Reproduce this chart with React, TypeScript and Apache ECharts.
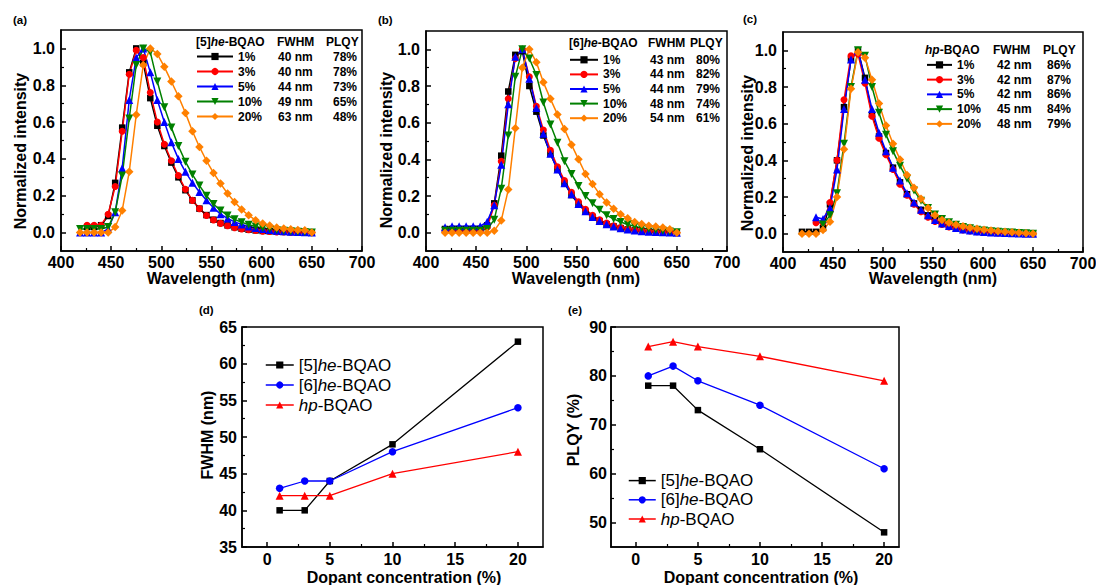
import React, { useEffect, useRef } from 'react';
import * as echarts from 'echarts';

const FONT = '"Liberation Sans", Arial, Helvetica, sans-serif';

// ---------- data: emission spectra (normalized intensity) ----------
const WAVELENGTHS = [419, 426, 433, 440, 447, 454, 461, 468, 475, 482, 489, 496, 503, 510, 517, 524, 531, 538, 545, 552, 559, 566, 573, 580, 587, 594, 601, 608, 615, 622, 629, 636, 643, 650];
const DOPING = ['1%', '3%', '5%', '10%', '20%'];

// (a) [5]he-BQAO
const A_1 = [null, 0.03, 0.03, 0.04, 0.09, 0.27, 0.57, 0.87, 1.0, 0.92, 0.73, 0.58, 0.47, 0.38, 0.30, 0.23, 0.175, 0.13, 0.095, 0.07, 0.052, 0.039, 0.029, 0.021, 0.016, 0.012, 0.009, 0.007, 0.005, 0.004, 0.003, 0.002, 0.001, 0.0];
const A_3 = [null, 0.04, 0.04, 0.04, 0.10, 0.25, 0.55, 0.86, 0.99, 0.95, 0.76, 0.60, 0.48, 0.39, 0.31, 0.235, 0.175, 0.13, 0.093, 0.068, 0.05, 0.037, 0.027, 0.02, 0.015, 0.011, 0.008, 0.006, 0.004, 0.003, 0.002, 0.001, 0.0, 0.0];
const A_5 = [0.0, 0.0, 0.0, 0.0, 0.02, 0.11, 0.35, 0.72, 0.95, 1.0, 0.87, 0.72, 0.60, 0.49, 0.40, 0.33, 0.27, 0.22, 0.175, 0.135, 0.10, 0.077, 0.058, 0.044, 0.033, 0.025, 0.019, 0.014, 0.01, 0.007, 0.005, 0.003, 0.002, 0.0];
const A_10 = [0.02, 0.02, 0.02, 0.02, 0.03, 0.11, 0.31, 0.62, 0.91, 1.0, 0.98, 0.82, 0.68, 0.57, 0.47, 0.385, 0.315, 0.255, 0.20, 0.155, 0.12, 0.093, 0.072, 0.056, 0.043, 0.033, 0.025, 0.019, 0.014, 0.01, 0.007, 0.005, 0.003, 0.0];
const A_20 = [0.0, 0.0, 0.0, 0.0, 0.0, 0.03, 0.12, 0.33, 0.64, 0.91, 1.0, 0.97, 0.90, 0.82, 0.74, 0.65, 0.55, 0.465, 0.39, 0.324, 0.266, 0.212, 0.166, 0.125, 0.094, 0.067, 0.05, 0.038, 0.027, 0.022, 0.018, 0.014, 0.012, 0.0];

// (b) [6]he-BQAO
const B_1 = [0.02, 0.02, 0.02, 0.02, 0.02, 0.02, 0.04, 0.16, 0.42, 0.77, 0.97, 0.99, 0.80, 0.66, 0.53, 0.43, 0.345, 0.27, 0.205, 0.155, 0.115, 0.085, 0.063, 0.046, 0.034, 0.025, 0.018, 0.013, 0.009, 0.006, 0.004, 0.003, 0.002, 0.0];
const B_3 = [0.01, 0.01, 0.01, 0.01, 0.01, 0.01, 0.03, 0.15, 0.39, 0.73, 0.95, 1.0, 0.85, 0.69, 0.56, 0.45, 0.36, 0.285, 0.22, 0.168, 0.127, 0.095, 0.07, 0.052, 0.038, 0.028, 0.02, 0.015, 0.011, 0.008, 0.006, 0.004, 0.002, 0.0];
const B_5 = [0.03, 0.035, 0.035, 0.035, 0.035, 0.035, 0.06, 0.15, 0.37, 0.70, 0.96, 1.0, 0.84, 0.68, 0.54, 0.43, 0.345, 0.27, 0.21, 0.157, 0.117, 0.086, 0.063, 0.046, 0.033, 0.024, 0.017, 0.012, 0.008, 0.005, 0.003, 0.002, 0.001, 0.0];
const B_10 = [0.01, 0.01, 0.01, 0.01, 0.01, 0.01, 0.02, 0.07, 0.24, 0.53, 0.85, 1.0, 0.95, 0.86, 0.71, 0.59, 0.49, 0.39, 0.32, 0.255, 0.20, 0.16, 0.125, 0.095, 0.075, 0.058, 0.045, 0.035, 0.026, 0.02, 0.014, 0.01, 0.006, 0.002];
const B_20 = [0.0, 0.0, 0.0, 0.0, 0.0, 0.0, 0.0, 0.01, 0.066, 0.235, 0.57, 0.90, 1.0, 0.93, 0.82, 0.73, 0.645, 0.565, 0.48, 0.40, 0.32, 0.265, 0.21, 0.165, 0.13, 0.10, 0.078, 0.058, 0.047, 0.038, 0.033, 0.028, 0.018, 0.0];

// (c) hp-BQAO
const C_1 = [0.01, 0.01, 0.01, 0.03, 0.16, 0.40, 0.69, 0.95, 1.0, 0.85, 0.65, 0.53, 0.44, 0.36, 0.28, 0.215, 0.165, 0.13, 0.10, 0.075, 0.056, 0.042, 0.032, 0.024, 0.018, 0.013, 0.01, 0.007, 0.005, 0.004, 0.003, 0.002, 0.001, 0.0];
const C_3 = [null, null, 0.06, 0.06, 0.17, 0.40, 0.73, 0.97, 0.98, 0.82, 0.64, 0.52, 0.43, 0.35, 0.27, 0.21, 0.16, 0.12, 0.09, 0.066, 0.05, 0.037, 0.028, 0.02, 0.015, 0.011, 0.008, 0.006, 0.004, 0.003, 0.002, 0.001, 0.0, 0.0];
const C_5 = [null, null, 0.09, 0.08, 0.14, 0.35, 0.68, 0.95, 1.0, 0.84, 0.68, 0.55, 0.45, 0.36, 0.29, 0.22, 0.17, 0.13, 0.10, 0.075, 0.056, 0.042, 0.031, 0.023, 0.017, 0.012, 0.009, 0.007, 0.005, 0.003, 0.002, 0.001, 0.0, 0.0];
const C_10 = [null, null, null, 0.05, 0.10, 0.22, 0.49, 0.80, 1.0, 0.97, 0.80, 0.66, 0.54, 0.45, 0.37, 0.30, 0.235, 0.18, 0.14, 0.105, 0.08, 0.062, 0.048, 0.037, 0.029, 0.022, 0.017, 0.013, 0.01, 0.008, 0.006, 0.004, 0.002, 0.0];
const C_20 = [0.0, 0.0, 0.0, 0.02, 0.065, 0.20, 0.46, 0.79, 0.99, 0.96, 0.84, 0.71, 0.59, 0.49, 0.405, 0.32, 0.25, 0.19, 0.14, 0.10, 0.075, 0.06, 0.048, 0.04, 0.032, 0.027, 0.022, 0.017, 0.013, 0.01, 0.008, 0.005, 0.002, 0.0];

// ---------- data: FWHM and PLQY vs. dopant concentration ----------
const CONCENTRATION = [1, 3, 5, 10, 20];
const MATERIALS = ['[5]he-BQAO', '[6]he-BQAO', 'hp-BQAO'];
const FWHM_5HE = [40, 40, 44, 49, 63];
const FWHM_6HE = [43, 44, 44, 48, 54];
const FWHM_HP = [42, 42, 42, 45, 48];
const PLQY_5HE = [78, 78, 73, 65, 48];
const PLQY_6HE = [80, 82, 79, 74, 61];
const PLQY_HP = [86, 87, 86, 84, 79];

// ---------- tick labels ----------
const X_TICKS_NM = [400, 450, 500, 550, 600, 650, 700];
const X_MINOR_NM = [425, 475, 525, 575, 625, 675];
const Y_TICKS_NORM = [0, 0.2, 0.4, 0.6, 0.8, 1.0];
const Y_MINOR_NORM = [0.1, 0.3, 0.5, 0.7, 0.9];
const X_TICKS_CONC = [0, 5, 10, 15, 20];
const X_MINOR_CONC = [2.5, 7.5, 12.5, 17.5];
const Y_TICKS_FWHM = [35, 40, 45, 50, 55, 60, 65];
const Y_MINOR_FWHM = [37.5, 42.5, 47.5, 52.5, 57.5, 62.5];
const Y_TICKS_PLQY = [50, 60, 70, 80, 90];
const Y_MINOR_PLQY = [55, 65, 75, 85];

// ---------- styles ----------
const SPEC_COLORS = ['#000000', '#ff0000', '#0000ff', '#008000', '#ff8000'];
const SPEC_SYMBOLS = ['rect', 'circle', 'triangle', 'triangle', 'diamond'];
const SPEC_ROTATE = [0, 0, 0, 180, 0];
const SPEC_SIZES = [6.5, 7, 8, 8, 8.5];
const MAT_COLORS = ['#000000', '#0000ff', '#ff0000'];
const MAT_SYMBOLS = ['rect', 'circle', 'triangle'];
const MAT_SIZES = [6.5, 7.5, 8];

const GRIDS = [
  { left: 61, top: 30, width: 301, height: 221 },
  { left: 426, top: 31, width: 301, height: 220 },
  { left: 783, top: 32, width: 300, height: 220 },
  { left: 242, top: 327, width: 301, height: 220 },
  { left: 611, top: 327, width: 288, height: 220 },
];

function axisPair(dim: 'x' | 'y', gridIndex: number, min: number, max: number, majors: number[], minors: number[], fmt: (v: number) => string, margin: number) {
  const position = dim === 'x' ? 'bottom' : 'left';
  const main = {
    type: 'value', gridIndex, min, max, position, offset: 0,
    axisLine: { show: true, onZero: false, lineStyle: { color: '#000', width: 1.5 } },
    axisTick: { show: true, inside: true, length: 5, customValues: majors, lineStyle: { color: '#000', width: 1.5 } },
    axisLabel: { show: true, customValues: majors, formatter: fmt, color: '#000', fontFamily: FONT, fontWeight: 'bold', fontSize: 16, margin },
    splitLine: { show: false },
  };
  const minor = {
    type: 'value', gridIndex, min, max, position, offset: 0,
    axisLine: { show: false, onZero: false },
    axisTick: { show: true, inside: true, length: 3, customValues: minors, lineStyle: { color: '#000', width: 1.2 } },
    axisLabel: { show: false },
    splitLine: { show: false },
  };
  return [main, minor];
}

const intFmt = (v: number) => String(Math.round(v));
const normFmt = (v: number) => v.toFixed(1);

function spectraSeries(g: number, sets: (number | null)[][]) {
  return sets.map((vals, i) => ({
    type: 'line',
    name: DOPING[i],
    xAxisIndex: 2 * g,
    yAxisIndex: 2 * g,
    data: WAVELENGTHS.map((w, k) => [w, vals[k]]).filter((p) => p[1] !== null),
    symbol: SPEC_SYMBOLS[i],
    symbolSize: SPEC_SIZES[i],
    symbolRotate: SPEC_ROTATE[i],
    showAllSymbol: true,
    lineStyle: { color: SPEC_COLORS[i], width: 1.5 },
    itemStyle: { color: SPEC_COLORS[i] },
    emphasis: { disabled: true },
  }));
}

function materialSeries(g: number, sets: number[][]) {
  return sets.map((vals, i) => ({
    type: 'line',
    name: MATERIALS[i],
    xAxisIndex: 2 * g,
    yAxisIndex: 2 * g,
    data: CONCENTRATION.map((c, k) => [c, vals[k]]),
    symbol: MAT_SYMBOLS[i],
    symbolSize: MAT_SIZES[i],
    showAllSymbol: true,
    lineStyle: { color: MAT_COLORS[i], width: 1.3 },
    itemStyle: { color: MAT_COLORS[i] },
    emphasis: { disabled: true },
  }));
}

function topLegend(left: number, top: number, itemWidth: number, rowH: number, nameW: number, fwhmW: number, fwhm: number[], plqy: number[]) {
  const tok = { fontFamily: FONT, fontWeight: 'bold', fontSize: 12, color: '#000', lineHeight: rowH };
  return {
    orient: 'vertical', left, top, padding: 0, itemWidth, itemHeight: 9, itemGap: 0,
    selectedMode: false,
    data: DOPING,
    lineStyle: { width: 2 },
    formatter: (name: string) => {
      const i = DOPING.indexOf(name);
      return `{n|${name}}{f|${fwhm[i]} nm}{p|${plqy[i]}%}`;
    },
    textStyle: { ...tok, rich: { n: { ...tok, width: nameW }, f: { ...tok, width: fwhmW }, p: { ...tok } } },
  };
}

function italicName(name: string) {
  return name.replace(/^(\[\d\])?(he|hp)/, (_m, a, b) => `${a || ''}{i|${b}}`);
}

function bottomLegend(left: number, top: number, itemWidth: number, rowH: number) {
  const tok = { fontFamily: FONT, fontSize: 17, color: '#000', lineHeight: rowH };
  return {
    orient: 'vertical', left, top, padding: 0, itemWidth, itemHeight: 9, itemGap: 0,
    selectedMode: false,
    data: MATERIALS,
    lineStyle: { width: 1.5 },
    formatter: (name: string) => italicName(name),
    textStyle: { ...tok, rich: { i: { ...tok, fontStyle: 'italic' } } },
  };
}

function txt(x: number, y: number, text: string, size: number, opts: any = {}) {
  return {
    type: 'text', x, y, rotation: opts.rotation || 0, silent: true,
    style: {
      text,
      fill: '#000',
      font: `bold ${size}px ${FONT}`,
      textAlign: opts.align || 'center',
      textVerticalAlign: 'middle',
      rich: opts.rich,
    },
  };
}

function header(x: number, y: number, name: string) {
  const tok = { fontFamily: FONT, fontWeight: 'bold', fontSize: 12, fill: '#000', color: '#000' };
  return txt(x, y, italicName(name), 12, { align: 'left', rich: { i: { ...tok, fontStyle: 'italic' } } });
}

export default function App() {
  const ref = useRef<HTMLDivElement>(null);
  useEffect(() => {
    if (!ref.current) return;
    const chart = echarts.init(ref.current, undefined, { renderer: 'svg' });

    const xAxis = [
      ...axisPair('x', 0, 400, 700, X_TICKS_NM, X_MINOR_NM, intFmt, 3),
      ...axisPair('x', 1, 400, 700, X_TICKS_NM, X_MINOR_NM, intFmt, 3),
      ...axisPair('x', 2, 400, 700, X_TICKS_NM, X_MINOR_NM, intFmt, 3),
      ...axisPair('x', 3, -2, 22, X_TICKS_CONC, X_MINOR_CONC, intFmt, 4),
      ...axisPair('x', 4, -2, 21.2, X_TICKS_CONC, X_MINOR_CONC, intFmt, 4),
    ];
    const yAxis = [
      ...axisPair('y', 0, -0.1, 1.1, Y_TICKS_NORM, Y_MINOR_NORM, normFmt, 6),
      ...axisPair('y', 1, -0.1, 1.1, Y_TICKS_NORM, Y_MINOR_NORM, normFmt, 6),
      ...axisPair('y', 2, -0.1, 1.1, Y_TICKS_NORM, Y_MINOR_NORM, normFmt, 6),
      ...axisPair('y', 3, 35, 65, Y_TICKS_FWHM, Y_MINOR_FWHM, intFmt, 5),
      ...axisPair('y', 4, 45, 90, Y_TICKS_PLQY, Y_MINOR_PLQY, intFmt, 4),
    ];

    const series = [
      ...spectraSeries(0, [A_1, A_3, A_5, A_10, A_20]),
      ...spectraSeries(1, [B_1, B_3, B_5, B_10, B_20]),
      ...spectraSeries(2, [C_1, C_3, C_5, C_10, C_20]),
      ...materialSeries(3, [FWHM_5HE, FWHM_6HE, FWHM_HP]),
      ...materialSeries(4, [PLQY_5HE, PLQY_6HE, PLQY_HP]),
    ];

    const legend = [
      topLegend(196, 49, 36, 15, 40, 55, FWHM_5HE, PLQY_5HE),
      topLegend(569, 52.5, 28, 14.6, 47, 46, FWHM_6HE, PLQY_6HE),
      topLegend(926, 57.5, 25, 14.75, 40, 50, FWHM_HP, PLQY_HP),
      bottomLegend(265, 355, 28, 20),
      bottomLegend(628, 471, 27, 19.2),
    ];

    const graphic = [
      txt(13, 20, '(a)', 11.5, { align: 'left' }),
      txt(378, 20, '(b)', 11.5, { align: 'left' }),
      txt(743, 19, '(c)', 11.5, { align: 'left' }),
      txt(199, 310, '(d)', 11.5, { align: 'left' }),
      txt(568, 310, '(e)', 11.5, { align: 'left' }),
      header(196, 41.7, '[5]he-BQAO'),
      txt(277, 41.7, 'FWHM', 12, { align: 'left' }),
      txt(326, 41.7, 'PLQY', 12, { align: 'left' }),
      header(569, 43.3, '[6]he-BQAO'),
      txt(648, 43.3, 'FWHM', 12, { align: 'left' }),
      txt(690, 43.3, 'PLQY', 12, { align: 'left' }),
      header(925, 50, 'hp-BQAO'),
      txt(993, 50, 'FWHM', 12, { align: 'left' }),
      txt(1043, 50, 'PLQY', 12, { align: 'left' }),
      txt(211, 278, 'Wavelength (nm)', 16),
      txt(576, 278, 'Wavelength (nm)', 16),
      txt(933, 278, 'Wavelength (nm)', 16),
      txt(20.5, 151, 'Normalized intensity', 16, { rotation: Math.PI / 2 }),
      txt(386, 150, 'Normalized intensity', 16, { rotation: Math.PI / 2 }),
      txt(747, 153, 'Normalized intensity', 16, { rotation: Math.PI / 2 }),
      txt(404, 577, 'Dopant concentration (%)', 16),
      txt(761, 577, 'Dopant concentration (%)', 16),
      txt(207, 435, 'FWHM (nm)', 16, { rotation: Math.PI / 2 }),
      txt(573, 430, 'PLQY (%)', 16, { rotation: Math.PI / 2 }),
    ];

    chart.setOption({
      animation: false,
      backgroundColor: '#ffffff',
      grid: GRIDS.map((g) => ({ ...g, show: true, borderColor: '#000', borderWidth: 1.5, backgroundColor: 'transparent', containLabel: false, outerBoundsMode: 'none' })),
      xAxis,
      yAxis,
      series,
      legend,
      graphic,
    } as any);

    return () => chart.dispose();
  }, []);

  return <div ref={ref} style={{ position: 'fixed', left: 0, top: 0, width: 1096, height: 585 }} />;
}
